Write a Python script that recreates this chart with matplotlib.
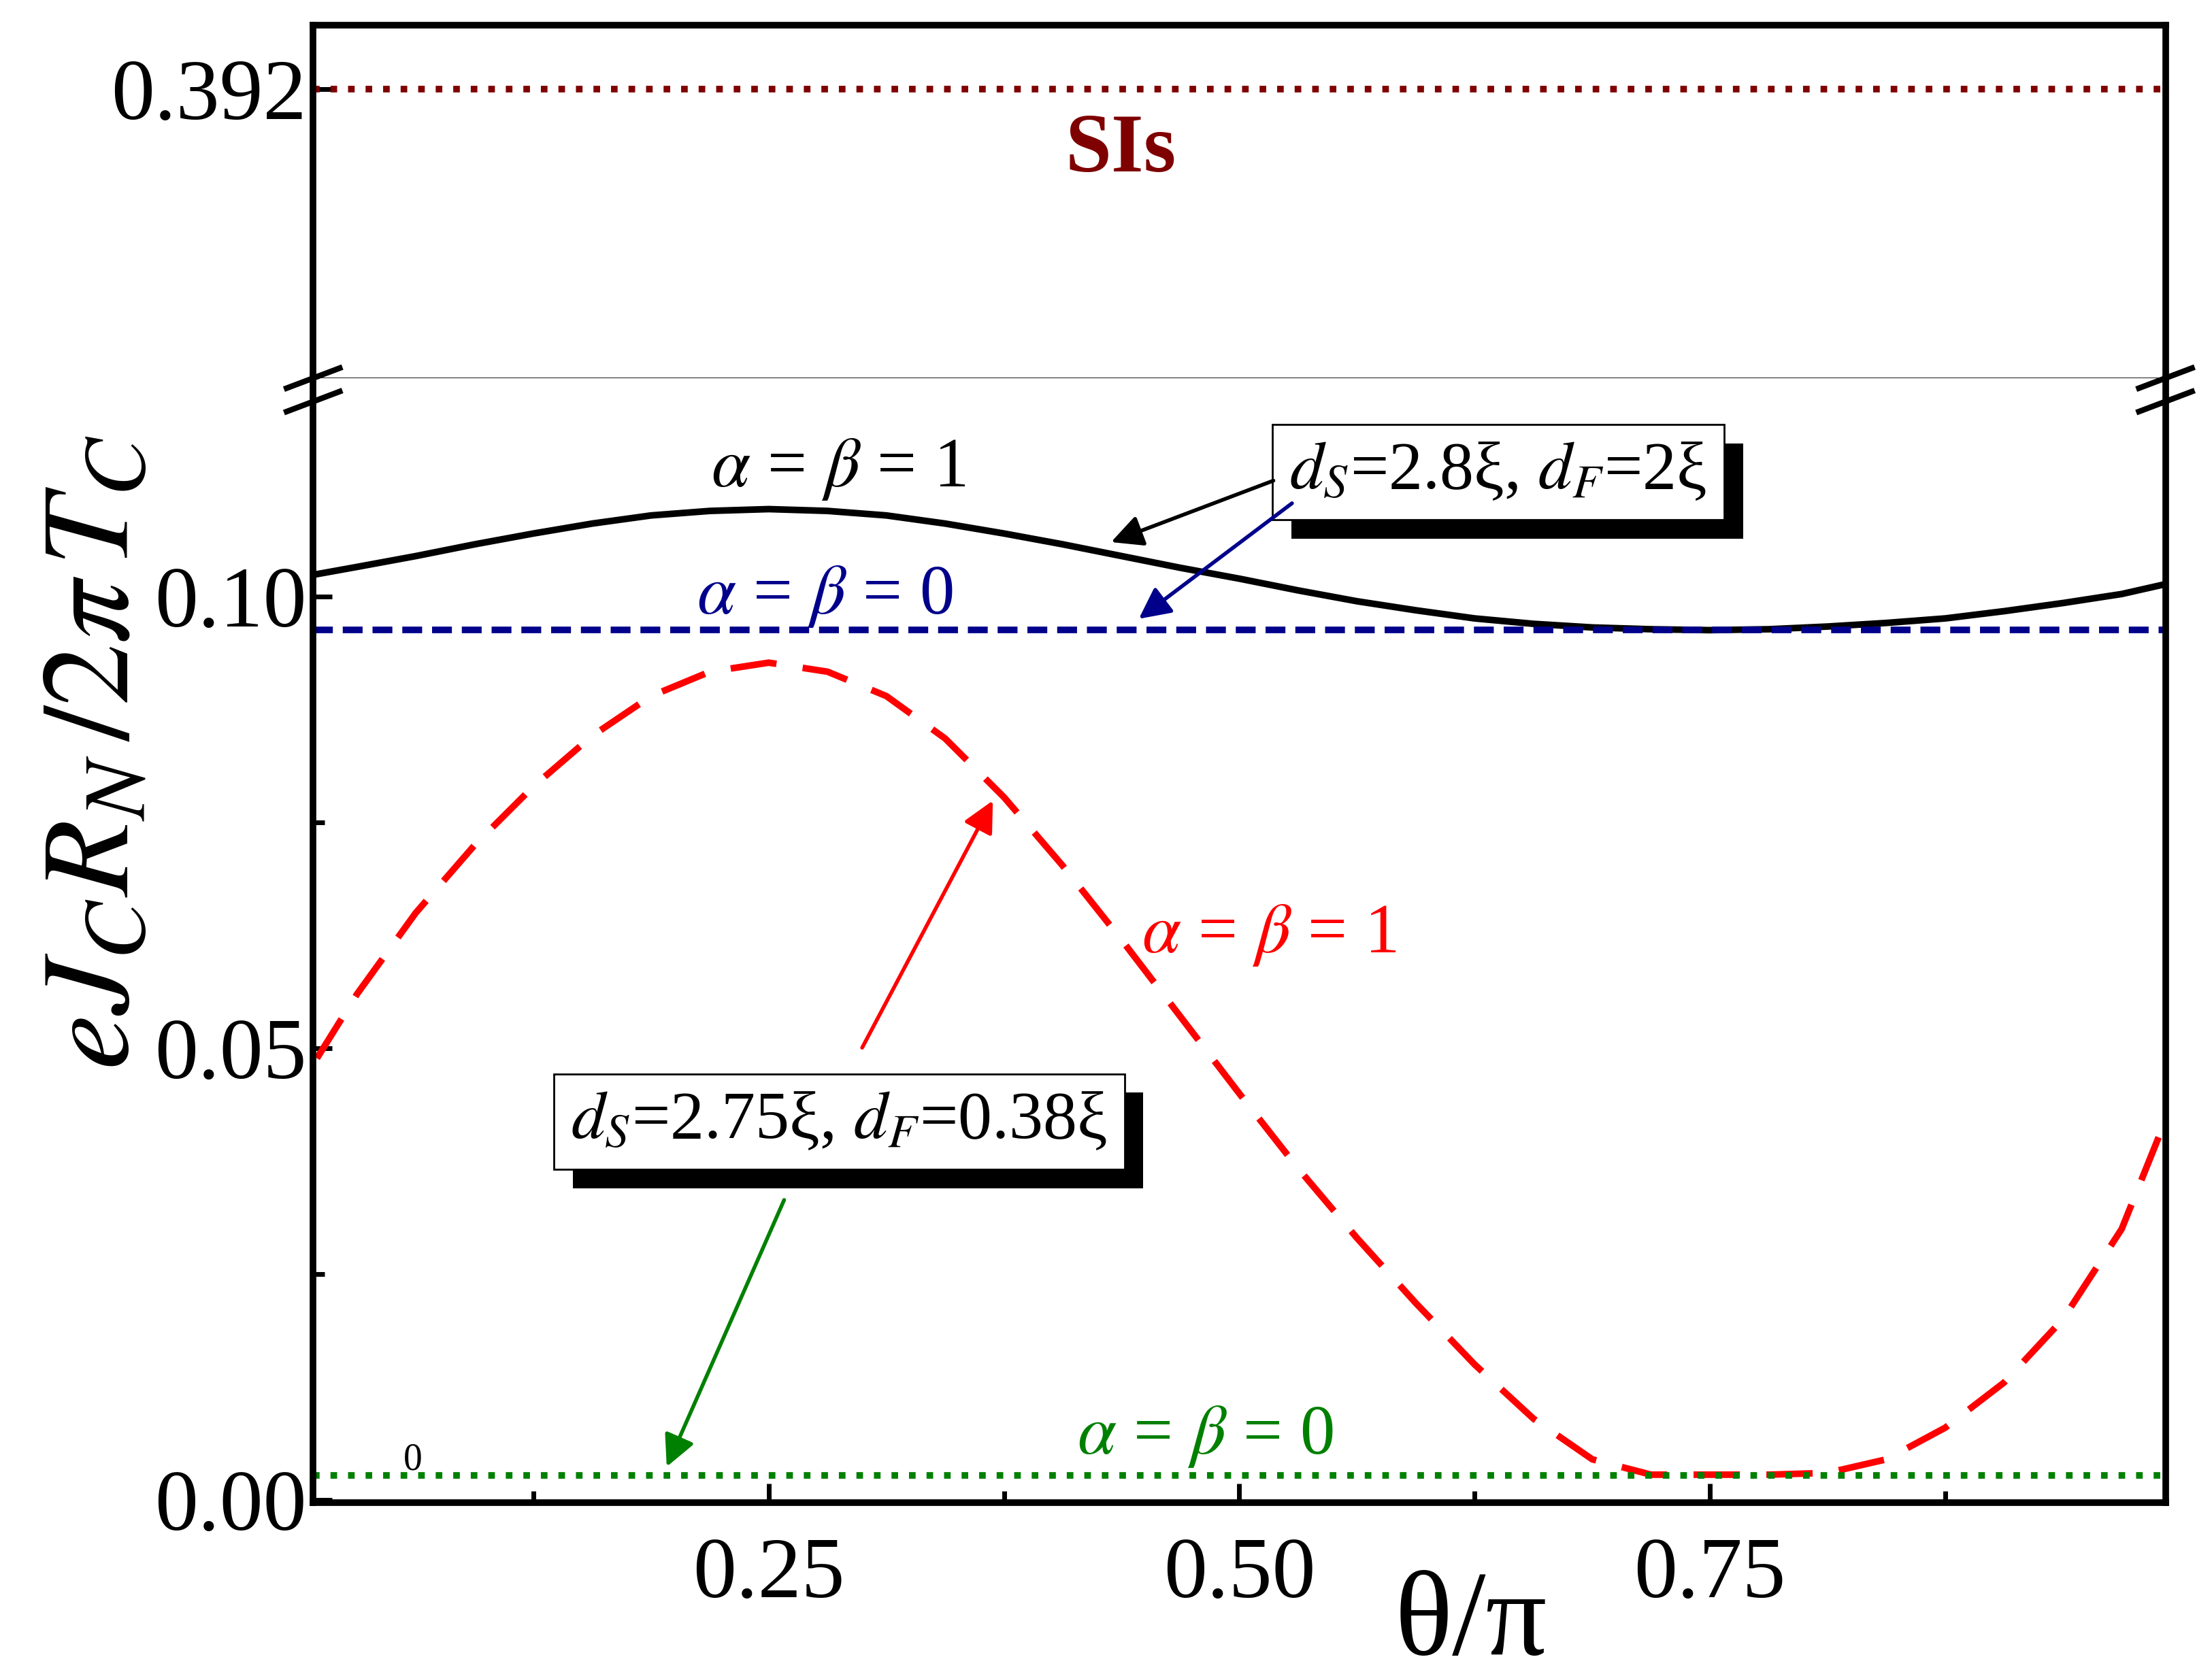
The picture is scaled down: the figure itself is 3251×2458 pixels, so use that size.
import matplotlib
matplotlib.use("Agg")
import matplotlib.pyplot as plt
from matplotlib import patheffects as pe

plt.rcParams['font.family'] = ['Liberation Serif', 'DejaVu Serif']
plt.rcParams['mathtext.fontset'] = 'stix'

theta = [0.01, 0.03125, 0.0625, 0.09375, 0.125, 0.15625, 0.1875, 0.21875, 0.25, 0.28125, 0.3125, 0.34375,
         0.375, 0.40625, 0.4375, 0.46875, 0.5, 0.53125, 0.5625, 0.59375, 0.625, 0.65625, 0.6875, 0.71875,
         0.75, 0.78125, 0.8125, 0.84375, 0.875, 0.90625, 0.9375, 0.96875, 0.99]
black_ab1 = [0.1025, 0.1033, 0.1045, 0.1058, 0.1070, 0.1081, 0.1090, 0.1095, 0.1097, 0.1095, 0.1090, 0.1081,
             0.1070, 0.1058, 0.1045, 0.1032, 0.1020, 0.1007, 0.0995, 0.0985, 0.0976, 0.0970, 0.0966, 0.0964,
             0.0963, 0.0964, 0.0967, 0.0971, 0.0976, 0.0984, 0.0993, 0.1003, 0.1013]
red_ab1 = [0.0489, 0.0560, 0.0650, 0.0725, 0.0790, 0.0846, 0.0890, 0.0917, 0.0927, 0.0917, 0.0890, 0.0843,
           0.0778, 0.0702, 0.0620, 0.0535, 0.0450, 0.0367, 0.0290, 0.0218, 0.0150, 0.0090, 0.0045, 0.0028,
           0.0028, 0.0028, 0.0030, 0.0045, 0.0080, 0.0130, 0.0200, 0.0300, 0.0410]
blue_ab0 = 0.0963
green_ab0 = 0.0027
sis = 0.392

W, H = 1568, 1185
fig = plt.figure(figsize=(16.255, 12.29), dpi=200)
l, r = 222 / W, 1535 / W
ax_top = fig.add_axes([l, 1 - 268 / H, r - l, (268 - 18) / H])
ax = fig.add_axes([l, 1 - 1065 / H, r - l, (1065 - 268) / H])

xlim = (0.008, 0.992)
for a in (ax_top, ax):
    a.set_xlim(*xlim)
    for s in a.spines.values():
        s.set_linewidth(3.5)
    a.tick_params(direction='in', width=2.5, length=10, labelsize=46)
    a.tick_params(which='minor', direction='in', width=2.5, length=6)

ax_top.set_ylim(0.38, 0.39463)
ax_top.set_yticks([sis], ['0.392'])
ax_top.set_xticks([])
ax_top.spines['bottom'].set_linewidth(1.0)
ax_top.axhline(sis, color='#7f0000', ls=':', lw=3.5)
ax_top.text(0.437, 0.3894, 'SIs', color='#7f0000', fontsize=44, fontweight='bold', ha='center', va='center')

ax.set_ylim(-0.0003, 0.1242)
ax.spines['top'].set_visible(False)
ax.set_yticks([0.0, 0.05, 0.10], ['0.00', '0.05', '0.10'])
ax.set_yticks([0.025, 0.075], minor=True)
ax.set_xticks([0.25, 0.5, 0.75], ['0.25', '0.50', '0.75'])
ax.set_xticks([0.125, 0.375, 0.625, 0.875], minor=True)
ax.tick_params(axis='x', pad=18)

ax.plot(theta, black_ab1, color='black', lw=3.5)
ax.axhline(blue_ab0, color='#00008b', ls=(0, (3, 1.5)), lw=3.5)
ax.plot(theta, red_ab1, color='#ff0000', ls=(0, (7, 4)), lw=3.5)
ax.axhline(green_ab0, color='#008000', ls=':', lw=3.5)

# break marks
for xf in (0.0, 1.0):
    for dy in (0.0, 0.014):
        fig.add_artist(plt.Line2D([l + xf * (r - l) - 0.012, l + xf * (r - l) + 0.012],
                                  [1 - 268 / H - dy - 0.006, 1 - 268 / H - dy + 0.006],
                                  color='black', lw=3, transform=fig.transFigure))

def boxed(x, y, s):
    t = ax.text(x, y, s, fontsize=36, ha='center', va='center',
                bbox=dict(boxstyle='square,pad=0.25', fc='white', ec='black', lw=1), zorder=5)
    t.get_bbox_patch().set_path_effects([pe.SimplePatchShadow(offset=(10, -10), shadow_rgbFace='black', alpha=1.0),
                                         pe.Normal()])

boxed(0.6376, 0.1138, r'$d_S$=2.8ξ, $d_F$=2ξ')
boxed(0.2875, 0.0419, r'$d_S$=2.75ξ, $d_F$=0.38ξ')

arr = lambda c: dict(arrowstyle='-|>', color=c, lw=2, mutation_scale=35)
ax.annotate('', xy=(0.43, 0.1059), xytext=(0.52, 0.113), arrowprops=arr('black'), zorder=6)
ax.annotate('', xy=(0.445, 0.0973), xytext=(0.5296, 0.1106), arrowprops=arr('#00008b'), zorder=6)
ax.annotate('', xy=(0.37, 0.0778), xytext=(0.2987, 0.0497), arrowprops=arr('#ff0000'), zorder=6)
ax.annotate('', xy=(0.195, 0.0033), xytext=(0.259, 0.0336), arrowprops=arr('#008000'), zorder=6)

lab = r'$\alpha$ = $\beta$ = '
ax.text(0.287, 0.1141, lab + '1', color='black', fontsize=37, ha='center', va='center')
ax.text(0.28, 0.1000, lab + '0', color='#00008b', fontsize=37, ha='center', va='center')
ax.text(0.516, 0.0625, lab + '1', color='#ff0000', fontsize=37, ha='center', va='center')
ax.text(0.482, 0.0070, lab + '0', color='#008000', fontsize=37, ha='center', va='center')
ax.text(0.061, 0.0044, '0', color='black', fontsize=20, ha='center', va='center')

fig.text(0.665, 0.028, 'θ/π', fontsize=64, ha='center', va='center')
fig.text(0.045, 0.55, r'$eJ_CR_N\,/2\pi\,T_C$', fontsize=66, rotation=90, ha='center', va='center')

fig.savefig('out.png', dpi=200)
